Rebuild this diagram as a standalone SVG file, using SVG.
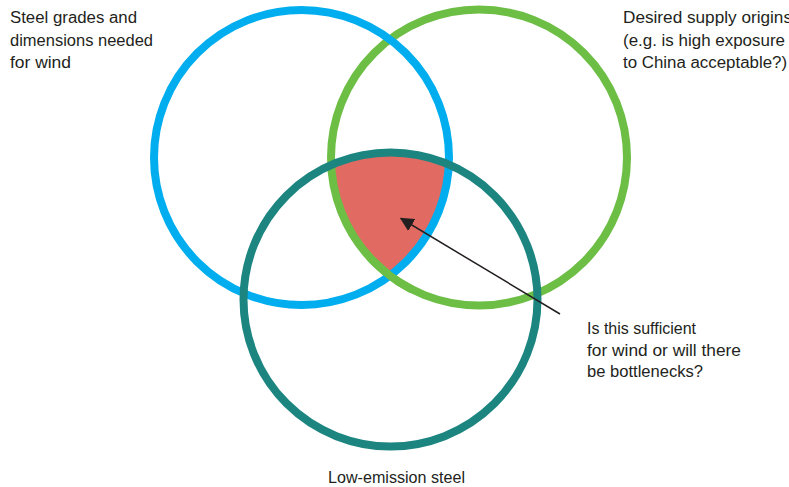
<svg xmlns="http://www.w3.org/2000/svg" width="789" height="487" viewBox="0 0 789 487">
  <style>
    .ring { fill: none; stroke-width: 8; }
    .blue { stroke: #00AEEF; }
    .green { stroke: #6DBE45; }
    .teal { stroke: #1C8580; }
    .label { font-family: "Liberation Sans", Arial, sans-serif; font-size: 16px; fill: #231F20; }
  </style>
  <defs>
    <clipPath id="clipBlue"><circle cx="301.5" cy="157.5" r="147.5"/></clipPath>
    <clipPath id="clipGreen"><circle cx="479" cy="157.5" r="148"/></clipPath>
    <marker id="arrowhead" viewBox="0 0 10 10" refX="9" refY="5" markerWidth="14" markerHeight="14" markerUnits="userSpaceOnUse" orient="auto">
      <path d="M0,0 L10,5 L0,10 z" fill="#231F20"/>
    </marker>
  </defs>

  <g id="overlap">
    <g clip-path="url(#clipBlue)">
      <g clip-path="url(#clipGreen)">
        <circle cx="390.5" cy="299.5" r="147" fill="#E16A63"/>
      </g>
    </g>
  </g>

  <g id="supply-origins">
    <circle class="ring green" cx="479" cy="157.5" r="148"/>
    <text class="label" x="623" y="23" textLength="169" lengthAdjust="spacingAndGlyphs">Desired supply origins</text>
    <text class="label" x="623" y="45.5" textLength="162" lengthAdjust="spacingAndGlyphs">(e.g. is high exposure</text>
    <text class="label" x="623" y="68" textLength="164" lengthAdjust="spacingAndGlyphs">to China acceptable?)</text>
  </g>

  <g id="steel-grades">
    <circle class="ring blue" cx="301.5" cy="157.5" r="147.5"/>
    <text class="label" x="10" y="23" textLength="127" lengthAdjust="spacingAndGlyphs">Steel grades and</text>
    <text class="label" x="10" y="45.5" textLength="143" lengthAdjust="spacingAndGlyphs">dimensions needed</text>
    <text class="label" x="10" y="68" textLength="61" lengthAdjust="spacingAndGlyphs">for wind</text>
  </g>

  <g id="low-emission">
    <circle class="ring teal" cx="390.5" cy="299.5" r="147"/>
    <text class="label" x="328" y="483" textLength="137" lengthAdjust="spacingAndGlyphs">Low-emission steel</text>
  </g>

  <g id="green-overlay">
    <path class="ring green" d="M 411.8 289.4 A 148 148 0 0 1 370.8 258.4"/>
  </g>

  <g id="connectors">
    <line x1="560" y1="314" x2="401" y2="218.5" stroke="#231F20" stroke-width="1.5" marker-end="url(#arrowhead)"/>
  </g>

  <g id="question">
    <text class="label" x="587" y="334" textLength="109" lengthAdjust="spacingAndGlyphs">Is this sufficient</text>
    <text class="label" x="587" y="355.5" textLength="154" lengthAdjust="spacingAndGlyphs">for wind or will there</text>
    <text class="label" x="587" y="377" textLength="116" lengthAdjust="spacingAndGlyphs">be bottlenecks?</text>
  </g>
</svg>
